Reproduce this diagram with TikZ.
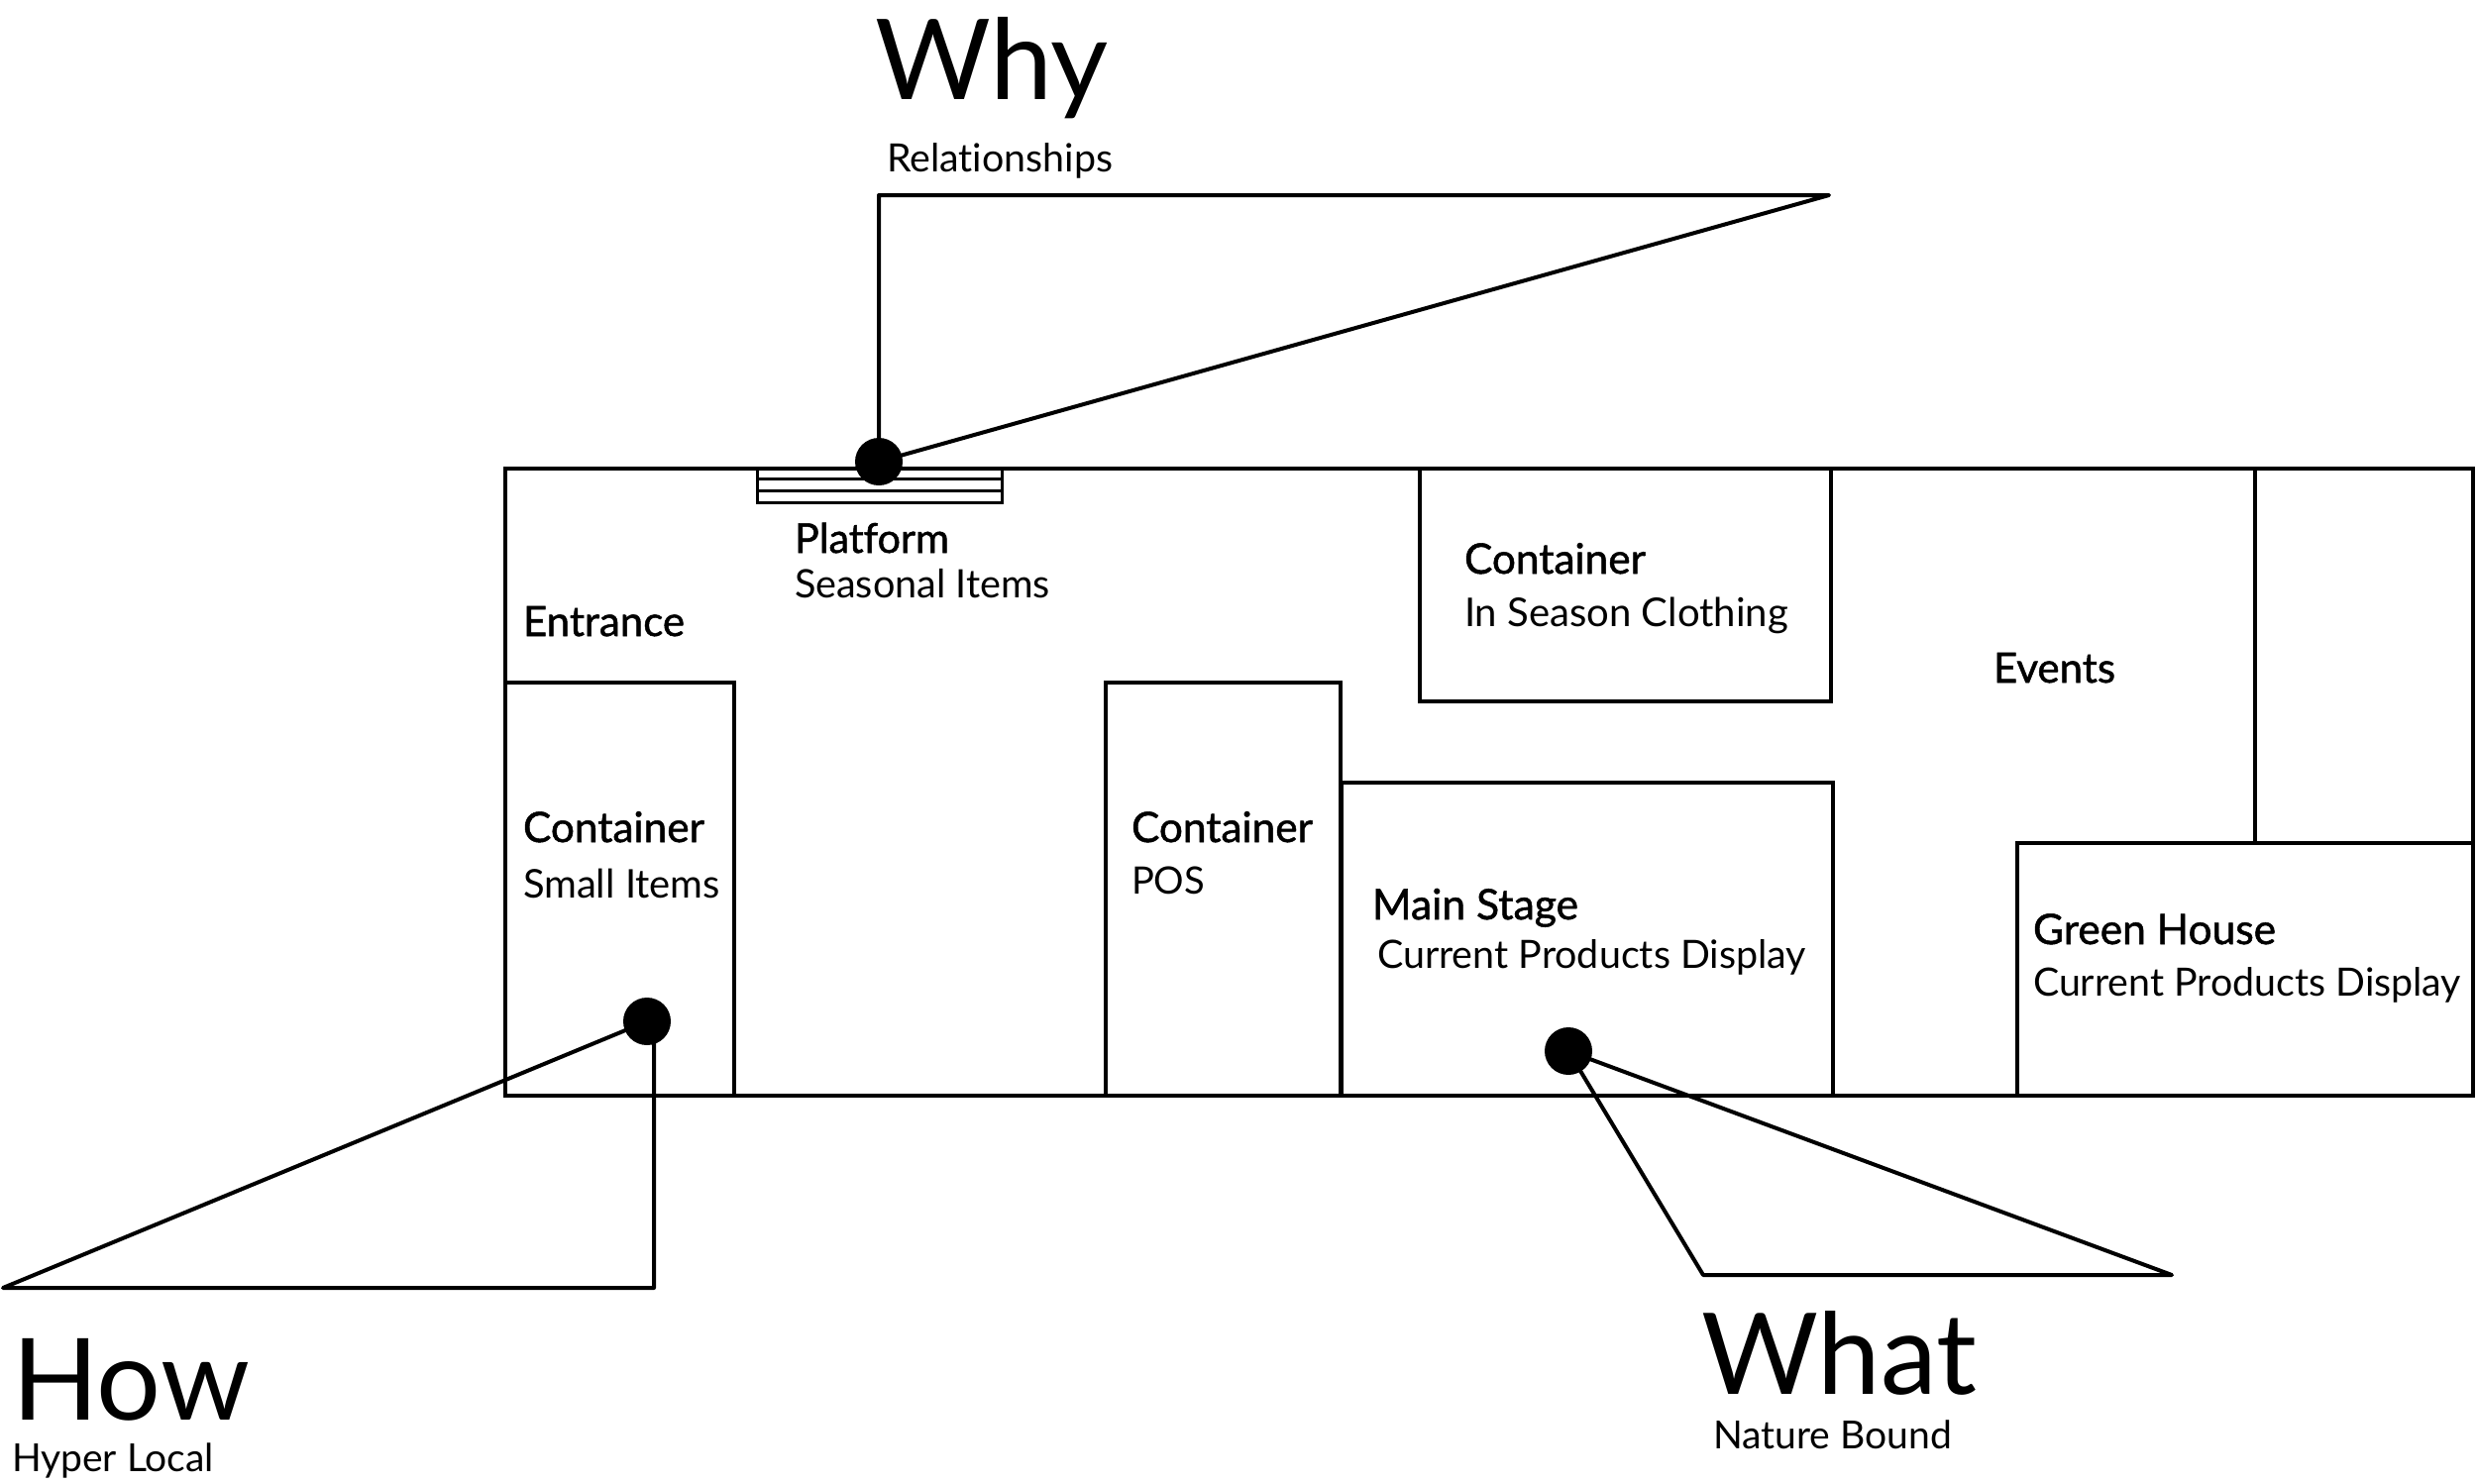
\documentclass[tikz,border=0pt]{standalone}
\usepackage{fontspec}
\usepackage{graphicx}
\setmainfont{Lato}[Ligatures={NoCommon}]
\newfontfamily\medfont{Lato}[FakeBold=1.2,Ligatures={NoCommon}]
\newcommand{\fitw}[2]{\resizebox{#1pt}{!}{#2}}
\newcommand{\reg}[2]{\fitw{#1}{\fontsize{40}{48}\selectfont #2}}
\newcommand{\med}[2]{\fitw{#1}{\fontsize{40}{48}\selectfont\medfont #2}}
\newcommand{\bigt}[2]{\fitw{#1}{\fontsize{110}{120}\selectfont #2}}
\begin{document}
\begin{tikzpicture}[x=1pt,y=-1pt,
  wall/.style={line width=4pt, line join=miter},
  thinwall/.style={line width=3pt},
  leader/.style={line width=4pt, line join=round, line cap=round},
  txt/.style={anchor=base west, inner sep=0pt, outer sep=0pt},
  dot/.style={circle, fill=black, draw=none, minimum size=48pt, inner sep=0pt}]
\useasboundingbox (0,0) rectangle (2500,1497);
\fill[white] (0,0) rectangle (2500,1497);

% floor plan
\draw[wall] (510,473) rectangle (2496,1106);
\draw[wall] (510,689) rectangle (741,1106);
\draw[wall] (1116,689) rectangle (1353,1106);
\draw[wall] (1433,473) rectangle (1848,708);
\draw[wall] (1354,790) rectangle (1850,1106);
\draw[wall] (2036,851) rectangle (2496,1106);
\draw[wall] (2276,473) -- (2276,851);

% platform
\draw[thinwall] (764,473) rectangle (1011,507);
\draw[thinwall] (764,483) -- (1011,483);
\draw[thinwall] (764,495) -- (1011,495);

% dots
\node[dot] (whydot) at (887,466) {};
\node[dot] (howdot) at (653,1031) {};
\node[dot] (whatdot) at (1583,1061) {};

% leader coordinates
\coordinate (whytop) at (887,197);
\coordinate (whyright) at (1846,197);
\coordinate (howleft) at (3,1300);
\coordinate (howcorner) at (660,1300);
\coordinate (howtop) at (660,1031);
\coordinate (whatcorner) at (1719,1287);
\coordinate (whatright) at (2192,1287);

\draw[leader] (whydot.center) -- (whytop) -- (whyright) -- (whydot.center);
\draw[leader] (howdot.center) -- (howleft) -- (howcorner) -- (howtop);
\draw[leader] (whatdot.center) -- (whatcorner) -- (whatright) -- (whatdot.center);

% texts
\node[txt] (why) at (883,100) {\bigt{236}{Why}};
\node[txt] (rel) at (895,173) {\reg{228}{Relationships}};
\node[txt] (plat) at (802,558) {\med{156}{Platform}};
\node[txt] (seas) at (802,603) {\reg{258}{Seasonal Items}};
\node[txt] (entr) at (528,642) {\med{163}{Entrance}};
\node[txt] (cont1) at (528,850) {\med{183}{Container}};
\node[txt] (small) at (528,906) {\reg{199}{Small Items}};
\node[txt] (cont2) at (1142,850) {\med{183}{Container}};
\node[txt] (pos) at (1142,902) {\reg{74}{POS}};
\node[txt] (cont3) at (1478,579) {\med{183}{Container}};
\node[txt] (clothing) at (1478,632) {\reg{327}{In Season Clothing}};
\node[txt] (events) at (2012,689) {\med{123}{Events}};
\node[txt] (stage) at (1385,928) {\med{208}{Main Stage}};
\node[txt] (cpd1) at (1390,977) {\reg{433}{Current Products Display}};
\node[txt] (green) at (2052,953) {\med{245}{Green House}};
\node[txt] (cpd2) at (2052,1005) {\reg{432}{Current Products Display}};
\node[txt] (how) at (12,1433) {\bigt{240}{How}};
\node[txt] (hyper) at (12,1485) {\reg{204}{Hyper Local}};
\node[txt] (what) at (1717,1407) {\bigt{278}{What}};
\node[txt] (nature) at (1729,1462) {\reg{241}{Nature Bound}};
\end{tikzpicture}
\end{document}
